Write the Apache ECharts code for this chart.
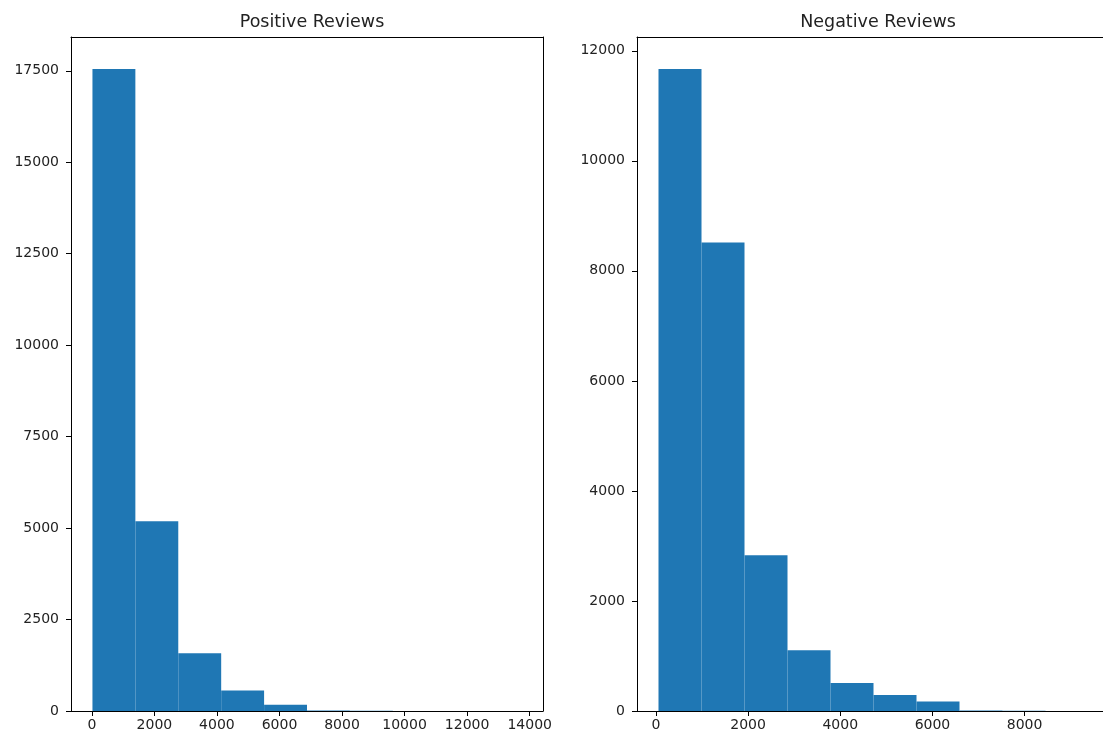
<!DOCTYPE html>
<html><head><meta charset="utf-8">
<script src="https://cdn.jsdelivr.net/npm/echarts@6/dist/echarts.min.js"></script>
<style>html,body{margin:0;padding:0;background:#fff}#c{width:1103px;height:735px}</style>
</head><body><div id="c"></div>
<script>
// ---- data ----
const positiveTitle = 'Positive Reviews';
const negativeTitle = 'Negative Reviews';
const positiveBinEdges = [20, 1392, 2764, 4136, 5508, 6880, 8252, 9624, 10996, 12368, 13740];
const positiveCounts = [17547, 5190, 1578, 558, 170, 12, 5, 3, 1, 1];
const negativeBinEdges = [56, 989, 1922, 2855, 3788, 4721, 5654, 6587, 7520, 8453, 9386];
const negativeCounts = [11667, 8513, 2832, 1104, 509, 291, 171, 8, 3, 2];
const positiveXTicks = [0, 2000, 4000, 6000, 8000, 10000, 12000, 14000];
const positiveYTicks = [0, 2500, 5000, 7500, 10000, 12500, 15000, 17500];
const negativeXTicks = [0, 2000, 4000, 6000, 8000];
const negativeYTicks = [0, 2000, 4000, 6000, 8000, 10000, 12000];

// ---- build ----
const FONT = '"DejaVu Sans", sans-serif';
const TXT = '#222';
const BAR = '#1f77b4';
const SPINE = { show: true, onZero: false, lineStyle: { color: '#000', width: 1 } };

function bins(edges, counts) {
  return counts.map((c, i) => [edges[i], edges[i + 1], c]);
}
function xRange(edges) {
  const span = edges[edges.length - 1] - edges[0];
  return [edges[0] - 0.05 * span, edges[edges.length - 1] + 0.05 * span];
}
function renderItem(params, api) {
  const p0 = api.coord([api.value(0), api.value(2)]);
  const p1 = api.coord([api.value(1), 0]);
  return {
    type: 'rect',
    shape: { x: p0[0], y: p0[1], width: p1[0] - p0[0], height: p1[1] - p0[1] },
    style: { fill: BAR }
  };
}
function xAxis(idx, edges, ticks) {
  const r = xRange(edges);
  return {
    type: 'value', gridIndex: idx, min: r[0], max: r[1], position: 'bottom',
    axisLine: SPINE,
    splitLine: { show: false },
    axisTick: { show: true, inside: false, length: 5, customValues: ticks, lineStyle: { color: '#000' } },
    axisLabel: { customValues: ticks, formatter: v => String(v), margin: 7, color: TXT, fontSize: 14, fontFamily: FONT }
  };
}
function topSpine(idx, edges) {
  const r = xRange(edges);
  return {
    type: 'value', gridIndex: idx, min: r[0], max: r[1], position: 'top',
    axisLine: SPINE, splitLine: { show: false }, axisTick: { show: false }, axisLabel: { show: false }
  };
}
function yAxis(idx, counts, ticks) {
  return {
    type: 'value', gridIndex: idx, min: 0, max: Math.max(...counts) * 1.05, position: 'left',
    axisLine: SPINE,
    splitLine: { show: false },
    axisTick: { show: true, inside: false, length: 5, customValues: ticks, lineStyle: { color: '#000' } },
    axisLabel: { customValues: ticks, formatter: v => String(v), margin: 12, color: TXT, fontSize: 14, fontFamily: FONT }
  };
}
function rightSpine(idx, counts) {
  return {
    type: 'value', gridIndex: idx, min: 0, max: Math.max(...counts) * 1.05, position: 'right',
    axisLine: SPINE, splitLine: { show: false }, axisTick: { show: false }, axisLabel: { show: false }
  };
}

const chart = echarts.init(document.getElementById('c'), null, { renderer: 'canvas' });
chart.setOption({
  backgroundColor: '#fff',
  animation: false,
  title: [
    { text: positiveTitle, left: 307, top: 8, textAlign: 'center',
      textStyle: { fontFamily: FONT, fontSize: 17.5, fontWeight: 'normal', color: TXT } },
    { text: negativeTitle, left: 873, top: 8, textAlign: 'center',
      textStyle: { fontFamily: FONT, fontSize: 17.5, fontWeight: 'normal', color: TXT } }
  ],
  grid: [
    { left: 71, right: 560, top: 37, bottom: 24, show: false, containLabel: false, outerBoundsMode: 'none' },
    { left: 637, width: 473, top: 37, bottom: 24, show: false, containLabel: false, outerBoundsMode: 'none' }
  ],
  xAxis: [
    xAxis(0, positiveBinEdges, positiveXTicks), xAxis(1, negativeBinEdges, negativeXTicks),
    topSpine(0, positiveBinEdges), topSpine(1, negativeBinEdges)
  ],
  yAxis: [
    yAxis(0, positiveCounts, positiveYTicks), yAxis(1, negativeCounts, negativeYTicks),
    rightSpine(0, positiveCounts)
  ],
  series: [
    { type: 'custom', xAxisIndex: 0, yAxisIndex: 0, renderItem, encode: { x: [0, 1], y: 2 },
      data: bins(positiveBinEdges, positiveCounts), z: 1 },
    { type: 'custom', xAxisIndex: 1, yAxisIndex: 1, renderItem, encode: { x: [0, 1], y: 2 },
      data: bins(negativeBinEdges, negativeCounts), z: 1 }
  ]
});
</script>
</body></html>
